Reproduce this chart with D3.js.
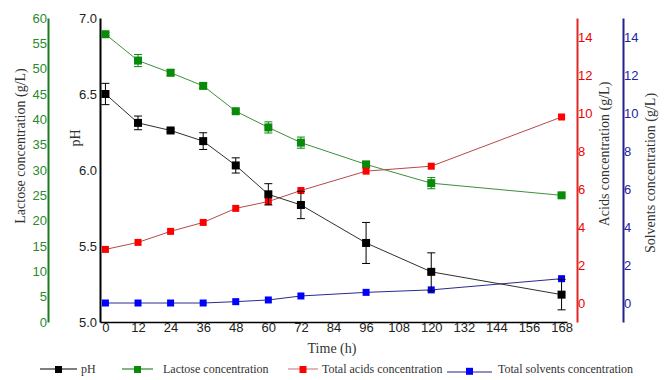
<!DOCTYPE html>
<html>
<head>
<meta charset="utf-8" />
<title></title>
<style>
    body { margin: 0; background: #fff; }
    svg { display: block; }
    .tick line { display: none; }
</style>
</head>
<body>
<div id="chart"></div>
<script src="https://cdn.jsdelivr.net/npm/d3@7/dist/d3.min.js"></script>
<script>
    var time = [0, 12, 24, 36, 48, 60, 72, 96, 120, 168];
    var ph = [6.50, 6.31, 6.26, 6.19, 6.03, 5.84, 5.77, 5.52, 5.33, 5.18];
    var phErr = [0.07, 0.045, 0.01, 0.055, 0.05, 0.07, 0.09, 0.135, 0.125, 0.1];
    var lactose = [56.8, 51.6, 49.2, 46.6, 41.6, 38.4, 35.4, 31.1, 27.4, 25.0];
    var lactoseErr = [0.3, 1.2, 0.6, 0.5, 0.3, 1.1, 1.1, 0.6, 1.1, 0.3];
    var acids = [2.82, 3.19, 3.77, 4.24, 4.98, 5.34, 5.92, 6.94, 7.20, 9.79];
    var solvents = [0.0, 0.0, 0.0, 0.0, 0.07, 0.16, 0.37, 0.56, 0.69, 1.28];
    var xTicks = d3.range(0, 169, 12);
    var concTicks = [0, 2, 4, 6, 8, 10, 12, 14];

    var width = 665, height = 380;
    var svg = d3.select("#chart").append("svg")
        .attr("width", width).attr("height", height);

    var x = d3.scaleLinear([-2, 170], [100, 567]);
    var yPH = d3.scaleLinear([5, 7], [322, 18]);
    var yLac = d3.scaleLinear([0, 60], [322, 18]);
    var yConc = d3.scaleLinear([-1, 15], [322, 18]);

    var sans = "Liberation Sans, Arial, sans-serif";
    var serif = "Liberation Serif, Times New Roman, serif";

    function styleAxis(g, color, w) {
        g.select(".domain").attr("stroke", color).attr("stroke-width", w);
        g.selectAll("text").attr("fill", color).attr("font-family", sans).attr("font-size", 13);
    }

    // x axis
    svg.append("g").attr("transform", "translate(0,322)")
        .call(d3.axisBottom(x).tickValues(xTicks).tickSize(0).tickPadding(1).tickSizeOuter(0))
        .call(g => styleAxis(g, "#000", 1.5))
        .call(g => g.selectAll("text").attr("fill", "#222"));

    // pH axis
    svg.append("g").attr("transform", "translate(100,0)")
        .call(d3.axisLeft(yPH).tickValues([5, 5.5, 6, 6.5, 7]).tickFormat(d3.format(".1f")).tickSize(0).tickPadding(3).tickSizeOuter(0))
        .call(g => styleAxis(g, "#000", 2))
        .call(g => g.selectAll("text").attr("fill", "#222"));

    // lactose axis
    svg.append("g").attr("transform", "translate(48,0)")
        .call(d3.axisLeft(yLac).tickValues(d3.range(0, 61, 5)).tickSize(0).tickPadding(1).tickSizeOuter(0))
        .call(g => styleAxis(g, "#2a8a2a", 2))
        .call(g => g.select(".domain").attr("stroke", "#1f7a1f"));

    // acids axis
    svg.append("g").attr("transform", "translate(577,0)")
        .call(d3.axisRight(yConc).tickValues(concTicks).tickSize(0).tickPadding(1).tickSizeOuter(0))
        .call(g => styleAxis(g, "#f00000", 2))
        .call(g => g.select(".domain").attr("stroke", "#e02828"));

    // solvents axis
    svg.append("g").attr("transform", "translate(623,0)")
        .call(d3.axisRight(yConc).tickValues(concTicks).tickSize(0).tickPadding(1).tickSizeOuter(0))
        .call(g => styleAxis(g, "#2424a0", 2))
        .call(g => g.select(".domain").attr("stroke", "#22228a"));

    // axis titles
    function title(tx, ty, rot, txt) {
        svg.append("text")
            .attr("transform", "translate(" + tx + "," + ty + ")" + (rot ? " rotate(-90)" : ""))
            .attr("text-anchor", "middle").attr("dominant-baseline", "central")
            .attr("font-family", serif).attr("font-size", 14).attr("fill", "#333")
            .text(txt);
    }
    title(20, 146, true, "Lactose concentration (g/L)");
    title(75, 138, true, "pH");
    title(604, 154, true, "Acids concentration (g/L)");
    title(650, 173, true, "Solvents concentration (g/L)");
    title(332, 348, false, "Time (h)");

    var series = [
        { vals: ph, err: phErr, y: yPH, fill: "#000", line: "#303030", size: 8 },
        { vals: lactose, err: lactoseErr, y: yLac, fill: "#0a8a0a", line: "#3d8f3d", size: 8 },
        { vals: acids, err: null, y: yConc, fill: "#ff0000", line: "#b84848", size: 7 },
        { vals: solvents, err: null, y: yConc, fill: "#0000ff", line: "#2a2a90", size: 7 }
    ];

    // green first, pH on top
    [series[1], series[2], series[3], series[0]].forEach(function (s) {
        var pts = time.map((t, i) => ({ t: t, v: s.vals[i], e: s.err ? s.err[i] : 0 }));
        var g = svg.append("g");
        g.append("path")
            .attr("d", d3.line().x(d => x(d.t)).y(d => s.y(d.v))(pts))
            .attr("fill", "none").attr("stroke", s.line).attr("stroke-width", 1);
        if (s.err) {
            var eb = g.selectAll(".eb").data(pts).join("g").attr("stroke", s.fill).attr("stroke-width", 1);
            eb.append("line")
                .attr("x1", d => x(d.t)).attr("x2", d => x(d.t))
                .attr("y1", d => s.y(d.v - d.e)).attr("y2", d => s.y(d.v + d.e));
            eb.append("line")
                .attr("x1", d => x(d.t) - 4).attr("x2", d => x(d.t) + 4)
                .attr("y1", d => s.y(d.v - d.e)).attr("y2", d => s.y(d.v - d.e));
            eb.append("line")
                .attr("x1", d => x(d.t) - 4).attr("x2", d => x(d.t) + 4)
                .attr("y1", d => s.y(d.v + d.e)).attr("y2", d => s.y(d.v + d.e));
        }
        g.selectAll("rect").data(pts).join("rect")
            .attr("x", d => x(d.t) - s.size / 2).attr("y", d => s.y(d.v) - s.size / 2)
            .attr("width", s.size).attr("height", s.size)
            .attr("fill", s.fill);
    });

    // legend
    var legend = [
        { label: "pH", x0: 40, x1: 77, tx: 81, fill: "#000", line: "#000", dy: 0 },
        { label: "Lactose concentration", x0: 122, x1: 153, tx: 163, fill: "#0a8a0a", line: "#2a8a2a", dy: 0 },
        { label: "Total acids concentration", x0: 288, x1: 318, tx: 322, fill: "#ff0000", line: "#d08888", dy: 0 },
        { label: "Total solvents concentration", x0: 447, x1: 492, tx: 498, fill: "#0000ff", line: "#22228a", dy: 3 }
    ];
    var lg = svg.append("g").selectAll("g").data(legend).join("g");
    lg.append("line")
        .attr("x1", d => d.x0).attr("x2", d => d.x1)
        .attr("y1", d => 369 + d.dy).attr("y2", d => 369 + d.dy)
        .attr("stroke", d => d.line).attr("stroke-width", 1.2);
    lg.append("rect")
        .attr("x", d => (d.x0 + d.x1) / 2 - 3.5).attr("y", d => 366 + d.dy * 0.6)
        .attr("width", 7).attr("height", 7)
        .attr("fill", d => d.fill);
    lg.append("text")
        .attr("x", d => d.tx).attr("y", 373)
        .attr("font-family", serif).attr("font-size", 12).attr("fill", "#333")
        .text(d => d.label);
</script>
</body>
</html>
